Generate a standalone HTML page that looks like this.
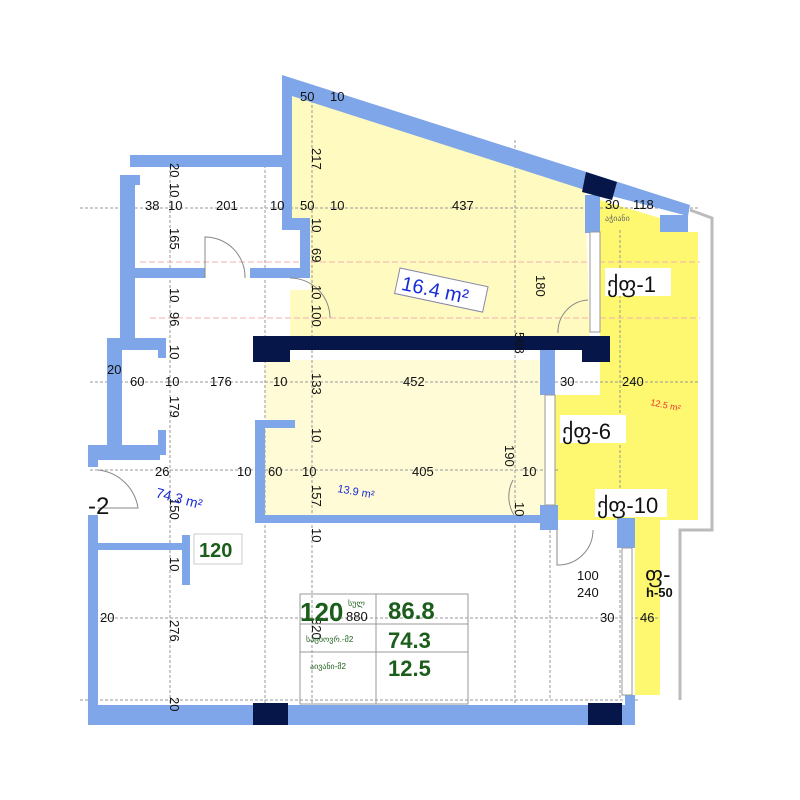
<!DOCTYPE html>
<html><head><meta charset="utf-8"><style>
html,body{margin:0;padding:0;background:#fff}
svg{display:block}
text{font-family:"Liberation Sans",sans-serif;fill:#111}
.d{font-size:13px}
.g{stroke:#999;stroke-width:1;stroke-dasharray:3 2;fill:none}
.r{stroke:#f3b0b0;stroke-width:1;stroke-dasharray:6 3;fill:none}
</style></head><body>
<svg width="800" height="800" viewBox="0 0 800 800" xmlns="http://www.w3.org/2000/svg">
<polygon points="292,88 585,190 590,338 290,338 290,290 310,290 310,228 292,228" fill="#fffbc0"/>
<rect x="265" y="360" width="280" height="158" fill="#fffbd6"/>
<polygon points="600,200 660,218 660,232 698,232 698,520 660,520 660,695 635,695 635,520 555,520 555,395 600,395" fill="#fdf870"/>
<polyline points="690,210 712,218 712,530 680,530 680,700" fill="none" stroke="#bbb" stroke-width="3"/>
<line x1="80" y1="208" x2="700" y2="208" class="g"/>
<line x1="90" y1="382" x2="700" y2="382" class="g"/>
<line x1="90" y1="470" x2="560" y2="470" class="g"/>
<line x1="90" y1="618" x2="660" y2="618" class="g"/>
<line x1="80" y1="700" x2="640" y2="700" class="g"/>
<line x1="170" y1="160" x2="170" y2="725" class="g"/>
<line x1="265" y1="160" x2="265" y2="725" class="g"/>
<line x1="312" y1="90" x2="312" y2="725" class="g"/>
<line x1="515" y1="140" x2="515" y2="725" class="g"/>
<line x1="550" y1="395" x2="550" y2="700" class="g"/>
<line x1="620" y1="230" x2="620" y2="700" class="g"/>
<line x1="140" y1="262" x2="700" y2="262" class="r"/>
<line x1="150" y1="318" x2="700" y2="318" class="r"/>
<g fill="#7ea6e8">
<polygon points="282,75 690,205 688,216 600,193 585,190 292,96 292,228 282,228"/>
<rect x="282" y="218" width="28" height="12"/>
<rect x="300" y="218" width="10" height="60"/>
<rect x="250" y="268" width="60" height="10"/>
<rect x="130" y="155" width="152" height="12"/>
<rect x="120" y="175" width="15" height="170"/>
<rect x="120" y="175" width="20" height="10"/>
<rect x="130" y="268" width="75" height="10"/>
<rect x="585" y="195" width="15" height="38"/>
<rect x="660" y="215" width="28" height="17"/>
<rect x="107" y="338" width="55" height="12"/>
<rect x="107" y="338" width="15" height="112"/>
<rect x="88" y="445" width="72" height="15"/>
<rect x="158" y="430" width="8" height="25"/>
<rect x="158" y="338" width="8" height="20"/>
<rect x="88" y="445" width="10" height="22"/>
<rect x="88" y="515" width="10" height="210"/>
<rect x="98" y="543" width="92" height="7"/>
<rect x="182" y="535" width="8" height="50"/>
<rect x="88" y="705" width="545" height="20"/>
<rect x="255" y="420" width="10" height="102"/>
<rect x="255" y="420" width="40" height="8"/>
<rect x="255" y="515" width="290" height="8"/>
<rect x="540" y="345" width="15" height="50"/>
<rect x="540" y="505" width="18" height="25"/>
<rect x="617" y="518" width="18" height="30"/>
<rect x="625" y="695" width="10" height="30"/>
</g>
<g fill="#061648">
<rect x="253" y="336" width="357" height="14"/>
<rect x="253" y="336" width="37" height="26"/>
<rect x="582" y="336" width="28" height="26"/>
<polygon points="586,172 617,182 612,200 582,192"/>
<rect x="253" y="703" width="35" height="22"/>
<rect x="588" y="703" width="34" height="22"/>
</g>
<rect x="545" y="395" width="10" height="110" fill="#fff" stroke="#999"/>
<rect x="590" y="232" width="10" height="100" fill="#fff" stroke="#999"/>
<rect x="622" y="548" width="10" height="147" fill="#fff" stroke="#999"/>
<g fill="none" stroke="#888" stroke-width="1">
<path d="M205,278 L205,237 A40,40 0 0 1 245,278"/>
<path d="M290,278 A40,40 0 0 1 330,318"/>
<path d="M588,300 A32,32 0 0 0 558,333"/>
<path d="M98,470 A45,45 0 0 1 138,508 L98,508"/>
<path d="M513,480 A35,35 0 0 0 514,515"/>
<path d="M557,530 L557,565 A35,35 0 0 0 593,530"/>
</g>
<g class="d">
<text x="300" y="101">50</text><text x="330" y="101">10</text>
<text x="145" y="210">38</text><text x="168" y="210">10</text><text x="216" y="210">201</text><text x="270" y="210">10</text><text x="300" y="210">50</text><text x="330" y="210">10</text><text x="452" y="210">437</text>
<text x="605" y="209">30</text><text x="633" y="209">118</text>
<text x="130" y="386">60</text><text x="165" y="386">10</text><text x="210" y="386">176</text><text x="273" y="386">10</text><text x="403" y="386">452</text><text x="560" y="386">30</text><text x="622" y="386">240</text>
<text x="155" y="476">26</text><text x="237" y="476">10</text><text x="268" y="476">60</text><text x="302" y="476">10</text><text x="412" y="476">405</text><text x="522" y="476">10</text>
<text x="100" y="622">20</text><text x="600" y="622">30</text><text x="640" y="622">46</text>
<text x="577" y="580">100</text><text x="577" y="597">240</text>
<text x="107" y="374">20</text>
</g>
<g class="d">
<text transform="translate(312,148) rotate(90)">217</text>
<text transform="translate(312,218) rotate(90)">10</text>
<text transform="translate(312,248) rotate(90)">69</text>
<text transform="translate(312,285) rotate(90)">10</text>
<text transform="translate(312,305) rotate(90)">100</text>
<text transform="translate(170,163) rotate(90)">20</text>
<text transform="translate(170,183) rotate(90)">10</text>
<text transform="translate(170,228) rotate(90)">165</text>
<text transform="translate(170,288) rotate(90)">10</text>
<text transform="translate(170,312) rotate(90)">96</text>
<text transform="translate(170,345) rotate(90)">10</text>
<text transform="translate(170,396) rotate(90)">179</text>
<text transform="translate(170,498) rotate(90)">150</text>
<text transform="translate(170,557) rotate(90)">10</text>
<text transform="translate(170,620) rotate(90)">276</text>
<text transform="translate(170,697) rotate(90)">20</text>
<text transform="translate(312,373) rotate(90)">133</text>
<text transform="translate(312,428) rotate(90)">10</text>
<text transform="translate(312,485) rotate(90)">157</text>
<text transform="translate(312,528) rotate(90)">10</text>
<text transform="translate(312,618) rotate(90)">320</text>
<text transform="translate(515,332) rotate(90)">568</text>
<text transform="translate(536,275) rotate(90)">180</text>
<text transform="translate(505,445) rotate(90)">190</text>
<text transform="translate(515,502) rotate(90)">10</text>
</g>
<g transform="translate(400,268) rotate(12)"><rect x="0" y="0" width="90" height="26" fill="#fff" stroke="#88a"/><text x="5" y="21" style="font-size:20px;fill:#1a2bd6">16.4 m²</text></g>
<text transform="translate(337,492) rotate(10)" style="font-size:11px;fill:#1a2bd6">13.9 m²</text>
<text transform="translate(155,497) rotate(15)" style="font-size:14px;fill:#1a2bd6">74.3 m²</text>
<text transform="translate(650,405) rotate(12)" style="font-size:9px;fill:#e33">12.5 m²</text>
<g style="font-size:22px">
<rect x="605" y="268" width="66" height="28" fill="#fff"/><text x="607" y="292">ქფ-1</text>
<rect x="560" y="415" width="66" height="28" fill="#fff"/><text x="562" y="439">ქფ-6</text>
<rect x="595" y="489" width="72" height="28" fill="#fff"/><text x="597" y="513">ქფ-10</text>
<text x="645" y="582">ფ-</text>
<text x="88" y="514" style="font-size:24px">-2</text>
</g>
<text x="646" y="597" style="font-size:13px;font-weight:bold">h-50</text>
<text x="605" y="221" style="font-size:8px;fill:#666">აჭიანი</text>
<rect x="194" y="534" width="48" height="30" fill="#fff" stroke="#ccc"/>
<text x="199" y="557" style="font-size:20px;font-weight:bold;fill:#1b5e1b">120</text>
<g stroke="#999" fill="none">
<rect x="300" y="594" width="168" height="110"/>
<line x1="376" y1="594" x2="376" y2="704"/><line x1="300" y1="624" x2="468" y2="624"/><line x1="300" y1="652" x2="468" y2="652"/>
</g>
<text x="300" y="621" style="font-size:26px;font-weight:bold;fill:#1b5e1b">120</text>
<text x="348" y="606" style="font-size:8px;fill:#1b5e1b">სულ</text>
<text x="346" y="621" style="font-size:13px">880</text>
<text x="388" y="619" style="font-size:24px;font-weight:bold;fill:#1b5e1b">86.8</text>
<text x="306" y="642" style="font-size:8px;fill:#1b5e1b">საცხოვრ.-მ2</text>
<text x="388" y="648" style="font-size:22px;font-weight:bold;fill:#1b5e1b">74.3</text>
<text x="310" y="669" style="font-size:8px;fill:#1b5e1b">აივანი-მ2</text>
<text x="388" y="676" style="font-size:22px;font-weight:bold;fill:#1b5e1b">12.5</text>
</svg>
</body></html>
